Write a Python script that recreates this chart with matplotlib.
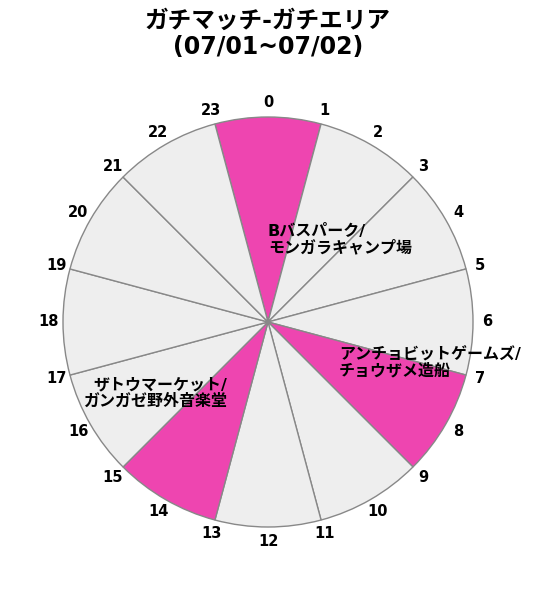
import matplotlib

matplotlib.use("Agg")
import matplotlib.pyplot as plt
import numpy as np

plt.rcParams["font.family"] = ["DejaVu Sans", "Noto Sans CJK JP"]

TITLE = "ガチマッチ-ガチエリア\n(07/01~07/02)"

# 2時間ごとの枠 (開始時刻)
slot_starts = [23, 1, 3, 5, 7, 9, 11, 13, 15, 17, 19, 21]
slot_sizes = [2] * 12
# ステージのある枠だけ名前を入れる
slot_stages = [
    "Bバスパーク/\nモンガラキャンプ場",
    "", "", "",
    "アンチョビットゲームズ/\nチョウザメ造船",
    "", "",
    "ザトウマーケット/\nガンガゼ野外音楽堂",
    "", "", "", "",
]
hours = list(range(24))

PINK = "#ee45b0"
GREY = "#eeeeee"

fig = plt.figure(figsize=(5.34, 5.89), dpi=100)
ax = fig.add_axes([63 / 534, 62 / 589, 410 / 534, 410 / 589])

colors = [PINK if s else GREY for s in slot_stages]
wedges, _ = ax.pie(
    slot_sizes, colors=colors, startangle=90 + 15 * (24 - slot_starts[0]),
    counterclock=False, radius=1.0,
    wedgeprops={"edgecolor": "#888888", "linewidth": 1.0},
)

for w, name in zip(wedges, slot_stages):
    if not name:
        continue
    ang = np.deg2rad((w.theta1 + w.theta2) / 2)
    x, y = 0.4 * np.cos(ang), 0.4 * np.sin(ang)
    ax.text(x, y, name, ha="left" if round(x, 6) >= 0 else "right", va="center",
            fontsize=11.5, fontweight="bold", linespacing=1.05)

for h in hours:
    ang = np.deg2rad(90 - 15 * h)
    ax.text(1.07 * np.cos(ang), 1.07 * np.sin(ang), str(h),
            ha="center", va="center", fontsize=10.5, fontweight="bold")

ax.set_xlim(-1, 1)
ax.set_ylim(-1, 1)
ax.set_aspect("equal")
ax.axis("off")

fig.text(268 / 534, 1 - 9 / 589, TITLE, ha="center", va="top",
         fontsize=17, fontweight="bold", linespacing=1.1)

fig.savefig("out.png", dpi=100, facecolor="white")
